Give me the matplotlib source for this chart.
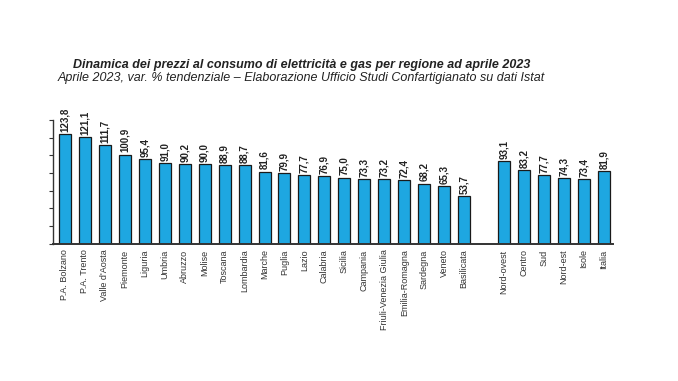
import matplotlib.pyplot as plt
import numpy as np

regioni = ["P.A. Bolzano", "P.A. Trento", "Valle d'Aosta", "Piemonte", "Liguria",
           "Umbria", "Abruzzo", "Molise", "Toscana", "Lombardia", "Marche",
           "Puglia", "Lazio", "Calabria", "Sicilia", "Campania",
           "Friuli-Venezia Giulia", "Emilia-Romagna", "Sardegna", "Veneto",
           "Basilicata"]
valori_regioni = [123.8, 121.1, 111.7, 100.9, 95.4, 91.0, 90.2, 90.0, 88.9, 88.7,
                  81.6, 79.9, 77.7, 76.9, 75.0, 73.3, 73.2, 72.4, 68.2, 65.3, 53.7]

ripartizioni = ["Nord-ovest", "Centro", "Sud", "Nord-est", "Isole", "Italia"]
valori_ripartizioni = [93.1, 83.2, 77.7, 74.3, 73.4, 81.9]

BAR_COLOR = "#1ea7e1"
plt.rcParams["font.family"] = ["Liberation Sans Narrow", "Liberation Sans", "DejaVu Sans"]

labels = regioni + ripartizioni
values = valori_regioni + valori_ripartizioni
# one empty slot between regions and macro areas
pos = list(range(len(regioni))) + [len(regioni) + 1 + i for i in range(len(ripartizioni))]

fig = plt.figure(figsize=(6.78, 3.81), dpi=100)
ax = fig.add_axes([0.078, 0.36, 0.826, 0.325])

ax.bar(pos, values, width=0.6, color=BAR_COLOR, edgecolor="#1a1a1a", linewidth=0.9)

for x, v in zip(pos, values):
    ax.text(x, v + 2.5, f"{v:.1f}".replace(".", ","), rotation=90, ha="center",
            va="bottom", fontsize=7, fontweight="bold", color="#222222")

ax.set_xlim(-0.6, pos[-1] + 0.45)
ax.set_ylim(0, 140)
ax.set_yticks(np.arange(0, 141, 20))
ax.set_yticklabels([])
ax.tick_params(axis="y", direction="out", length=3, width=0.8, color="#333333")
ax.set_xticks(pos)
ax.set_xticklabels(labels, rotation=90, fontsize=6.5, color="#333333")
ax.tick_params(axis="x", length=0, pad=4)

for s in ["top", "right"]:
    ax.spines[s].set_visible(False)
ax.spines["left"].set_color("#333333")
ax.spines["bottom"].set_color("#333333")
ax.spines["left"].set_linewidth(1.0)
ax.spines["bottom"].set_linewidth(1.4)

fig.text(0.445, 0.829, "Dinamica dei prezzi al consumo di elettricità e gas per regione ad aprile 2023",
         ha="center", va="center", fontsize=9, fontweight="bold", style="italic",
         color="#222222", family=["Liberation Sans", "DejaVu Sans"])
fig.text(0.445, 0.796, "Aprile 2023, var. % tendenziale – Elaborazione Ufficio Studi Confartigianato su dati Istat",
         ha="center", va="center", fontsize=9, style="italic", color="#222222",
         family=["Liberation Sans", "DejaVu Sans"])

fig.savefig("out.png", dpi=100, facecolor="white")
